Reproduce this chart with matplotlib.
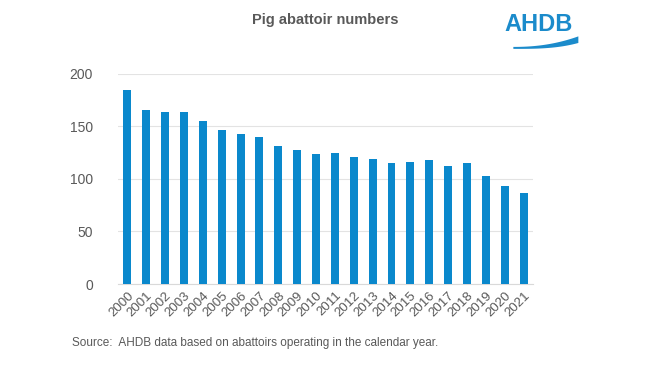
import matplotlib
matplotlib.use('Agg')
import matplotlib.pyplot as plt
import numpy as np

plt.rcParams['font.family'] = ['Liberation Sans', 'DejaVu Sans']

# data
years = [str(y) for y in range(2000, 2022)]
abattoirs = [185, 166, 164, 164, 155, 147, 143, 140, 131, 128, 124, 125,
             121, 119, 115, 116, 118, 112, 115, 103, 93, 87]
yticks = [0, 50, 100, 150, 200]

bar_color = '#0A88CC'
text_grey = '#595959'

fig = plt.figure(figsize=(6.5, 3.66), dpi=100)
ax = fig.add_axes([0.1815, 0.224, 0.6385, 0.574])

x = np.arange(len(years))
ax.bar(x, abattoirs, width=0.42, color=bar_color, zorder=3)

ax.set_xlim(-0.5, len(years) - 0.5)
ax.set_ylim(0, 200)
ax.set_yticks(yticks)
ax.set_yticklabels([str(v) for v in yticks], fontsize=10, color=text_grey)
ax.set_xticks(x)
ax.set_xticklabels(years, rotation=45, ha='right', rotation_mode='anchor',
                   fontsize=9.5, color=text_grey)
ax.tick_params(axis='both', length=0)
ax.tick_params(axis='y', pad=18)
ax.tick_params(axis='x', pad=4)
ax.grid(axis='y', color='#E3E3E3', linewidth=0.8, zorder=0)
for s in ['top', 'right', 'left']:
    ax.spines[s].set_visible(False)
ax.spines['bottom'].set_color('#D9D9D9')

fig.text(0.5, 0.945, 'Pig abattoir numbers', ha='center', va='center',
         fontsize=10.5, fontweight='bold', color=text_grey)

fig.text(0.11, 0.063, 'Source:  AHDB data based on abattoirs operating in the calendar year.',
         ha='left', va='center', fontsize=8.5, color=text_grey)

# AHDB logo: wordmark plus a swoosh underneath
logo_blue = '#1B8BCB'
fig.text(0.828, 0.933, 'AHDB', ha='center', va='center', fontsize=17,
         fontweight='bold', color=logo_blue)
lax = fig.add_axes([0.789, 0.866, 0.1, 0.036])
lax.set_xlim(0, 1)
lax.set_ylim(0, 1)
lax.axis('off')
t = np.linspace(0, 1, 80)
lower = 0.05 + 0.45 * t ** 3
upper = 0.2 + 0.8 * t ** 2.2
lax.fill_between(t, lower, upper, color=logo_blue, lw=0)

fig.savefig('out.png', dpi=100)
